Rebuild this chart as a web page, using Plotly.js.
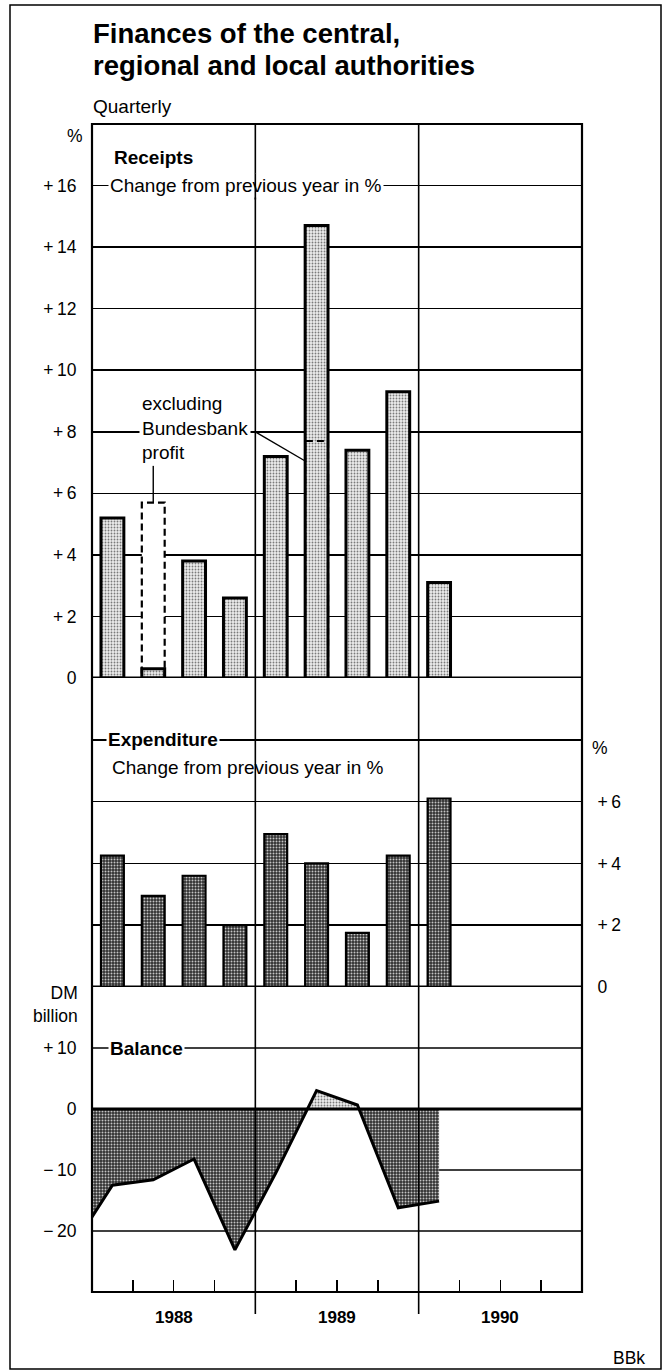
<!DOCTYPE html>
<html><head><meta charset="utf-8">
<script src="https://cdn.plot.ly/plotly-3.0.1.min.js"></script>
<style>html,body{margin:0;padding:0;background:#fff;}#chart{width:664px;height:1372px;}</style>
</head><body><div id="chart"></div>
<script>
// ---------------- data ----------------
const quarters = ['1988 Q1','1988 Q2','1988 Q3','1988 Q4','1989 Q1','1989 Q2','1989 Q3','1989 Q4','1990 Q1'];
const receipts = [5.2, 0.3, 3.8, 2.6, 7.2, 14.7, 7.4, 9.3, 3.1];
const receiptsExclBundesbankProfit = [null, 5.7, null, null, null, 7.7, null, null, null];
const expenditure = [4.25, 2.95, 3.6, 2.0, 4.95, 4.0, 1.75, 4.25, 6.1];
const balanceQuarters = ['1987 Q4','1988 Q1','1988 Q2','1988 Q3','1988 Q4','1989 Q1','1989 Q2','1989 Q3','1989 Q4','1990 Q1'];
const balance = [-22.9, -12.5, -11.6, -8.2, -23.1, -10.5, 3.0, 0.65, -16.2, -15.1];
const years = ['1988','1989','1990'];
const receiptTickVals = [0,2,4,6,8,10,12,14,16,18];
const receiptTickText = ['0','+\u20092','+\u20094','+\u20096','+\u20098','+\u200910','+\u200912','+\u200914','+\u200916',''];
const expTickVals = [0,2,4,6,8];
const expTickText = ['0','+\u20092','+\u20094','+\u20096',''];
const balTickVals = [-20,-10,0,10];
const balTickText = ['\u2212\u200920','\u2212\u200910','0','+\u200910'];

// ---------------- helpers ----------------
const FONT = 'Liberation Sans, Arial, Helvetica, sans-serif';
const firstYear = parseInt(years[0]);
function qpos(label){ const [y,q] = label.split(' '); return (parseInt(y)-firstYear)*4 + (parseInt(q.slice(1))-1) + 0.5; }
const qx = quarters.map(qpos);
const bx = balanceQuarters.map(qpos);
const nQ = years.length*4;
const BW = 0.56;
// plot geometry in px (for paper conversion)
const W=664, H=1372, L=92, R=582, T=124, B=1292;
const xp = px => (px-L)/(R-L);
const yp = py => (B-py)/(B-T);

// balance split into negative / positive parts with zero crossings
function splitSign(xs, ys){
  const X=[], Yn=[], Yp=[];
  for(let i=0;i<xs.length;i++){
    if(i>0){
      const y0=ys[i-1], y1=ys[i];
      if((y0<0 && y1>0)||(y0>0 && y1<0)){
        const xc = xs[i-1] + (xs[i]-xs[i-1])*(-y0)/(y1-y0);
        X.push(xc); Yn.push(0); Yp.push(0);
      }
    }
    X.push(xs[i]); Yn.push(Math.min(ys[i],0)); Yp.push(Math.max(ys[i],0));
  }
  return {X,Yn,Yp};
}
const bs = splitSign(bx, balance);

const lightPattern = {shape:'.', bgcolor:'#ececec', fgcolor:'#7a7a7a', size:3, solidity:0.3};
const darkPattern = {shape:'.', bgcolor:'#303030', fgcolor:'#c4c4c4', size:3, solidity:0.35};

const traces = [
  // white cover for "excluding Bundesbank profit" boxes
  {type:'bar', x:qx, y:receiptsExclBundesbankProfit, width:BW, xaxis:'x', yaxis:'y',
   marker:{color:'#ffffff', line:{width:0}}, hoverinfo:'skip', showlegend:false},
  {type:'bar', x:qx, y:receipts, width:BW, xaxis:'x', yaxis:'y', name:'Receipts',
   marker:{color:'#e0e0e0', line:{color:'#000', width:3}, pattern:lightPattern}, showlegend:false},
  {type:'bar', x:qx, y:expenditure, width:BW, xaxis:'x', yaxis:'y2', name:'Expenditure',
   marker:{color:'#555', line:{color:'#000', width:2.2}, pattern:darkPattern}, showlegend:false},
  {type:'scatter', mode:'lines', x:bs.X, y:bs.Yn, xaxis:'x', yaxis:'y3', fill:'tozeroy',
   fillcolor:'#454545', fillpattern:darkPattern, line:{width:0}, hoverinfo:'skip', showlegend:false},
  {type:'scatter', mode:'lines', x:bs.X, y:bs.Yp, xaxis:'x', yaxis:'y3', fill:'tozeroy',
   fillcolor:'#e0e0e0', fillpattern:lightPattern, line:{width:0}, hoverinfo:'skip', showlegend:false},
  {type:'scatter', mode:'lines', x:bx, y:balance, xaxis:'x', yaxis:'y3', name:'Balance',
   line:{color:'#000', width:3}, showlegend:false}
];

const shapes = [];
// dashed boxes for receipts excluding Bundesbank profit
receiptsExclBundesbankProfit.forEach((v,i)=>{
  if(v===null) return;
  shapes.push({type:'rect', xref:'x', yref:'y', x0:qx[i]-BW/2, x1:qx[i]+BW/2, y0:0, y1:v,
    line:{color:'#000', width:2.2, dash:'7px,4px'}, fillcolor:'rgba(0,0,0,0)', layer:'above'});
});
// leader lines for the note
const i1 = receiptsExclBundesbankProfit.findIndex(v=>v!==null);
const i2 = receiptsExclBundesbankProfit.findLastIndex(v=>v!==null);
shapes.push({type:'line', xref:'x', yref:'y', x0:qx[i1], x1:qx[i1], y0:receiptsExclBundesbankProfit[i1], y1:6.9, line:{color:'#000', width:1.4}});
shapes.push({type:'line', xref:'x', yref:'y', x0:4, x1:qx[i2]-BW/2, y0:8, y1:receiptsExclBundesbankProfit[i2]-0.65, line:{color:'#000', width:1.4}});
// baselines
shapes.push({type:'line', xref:'paper', yref:'y', x0:0, x1:1, y0:0, y1:0, line:{color:'#000', width:3}, layer:'above'});
shapes.push({type:'line', xref:'paper', yref:'y2', x0:0, x1:1, y0:0, y1:0, line:{color:'#000', width:3}, layer:'above'});
shapes.push({type:'line', xref:'paper', yref:'y3', x0:0, x1:1, y0:0, y1:0, line:{color:'#000', width:3}, layer:'above'});
// balance grid lines
shapes.push({type:'line', xref:'paper', yref:'y3', x0:0, x1:1, y0:10, y1:10, line:{color:'#000', width:1.6}, layer:'below'});
shapes.push({type:'line', xref:'paper', yref:'y3', x0:0, x1:1, y0:-20, y1:-20, line:{color:'#000', width:1.6}, layer:'below'});
shapes.push({type:'line', xref:'x', yref:'y3', x0:bx[bx.length-1], x1:nQ, y0:-10, y1:-10, line:{color:'#000', width:1.6}, layer:'below'});
// year boundary lines
for(let k=1;k<years.length;k++){
  shapes.push({type:'line', xref:'x', yref:'paper', x0:k*4, x1:k*4, y0:yp(1314), y1:1, line:{color:'#000', width:1.6}, layer:'above'});
}
// plot frame
shapes.push({type:'rect', xref:'paper', yref:'paper', x0:0, x1:1, y0:0, y1:1, line:{color:'#000', width:2.2}, layer:'above'});
// outer border
shapes.push({type:'rect', xref:'paper', yref:'paper', x0:xp(10), x1:xp(661), y0:yp(1369), y1:yp(5), line:{color:'#000', width:1.5}, layer:'above'});

const tf = {family:FONT, size:19, color:'#000'};
const sf = {family:FONT, size:17.5, color:'#000'};
const ann = (text, x, y, opts={}) => Object.assign({text, xref:'paper', yref:'paper', x:xp(x), y:yp(y), xanchor:'left', yanchor:'middle', showarrow:false, font:tf}, opts);
const annotations = [
  ann('<b>Finances of the central,</b>', 91, 34, {font:{family:FONT, size:27.5, color:'#000'}}),
  ann('<b>regional and local authorities</b>', 91, 65, {font:{family:FONT, size:27.5, color:'#000'}}),
  ann('Quarterly', 91, 106),
  ann('%', 75, 136, {xanchor:'center', font:sf}),
  ann('<b>Receipts</b>', 112, 158),
  {text:'Change from previous year in %', xref:'paper', yref:'y', x:xp(108), y:16, xanchor:'left', yanchor:'middle', showarrow:false, font:tf, bgcolor:'#fff', borderpad:1},
  // year-boundary line segment redrawn over the text background
  {text:'', xref:'x', yref:'y', x:4, y:15.55, axref:'x', ayref:'y', ax:4, ay:16.45, showarrow:true, arrowhead:0, arrowwidth:1.6, arrowcolor:'#000', standoff:0, startstandoff:0},
  ann('excluding<br>Bundesbank<br>profit', 139, 428, {align:'left', bgcolor:'#fff', borderpad:2}),
  {text:'<b>Expenditure</b>', xref:'paper', yref:'y2', x:xp(106), y:8, xanchor:'left', yanchor:'middle', showarrow:false, font:tf, bgcolor:'#fff', borderpad:1},
  ann('Change from previous year in %', 110, 767),
  ann('%', 600, 748, {xanchor:'center', font:sf}),
  ann('DM<br>billion', 80, 1004, {xanchor:'right', align:'right', font:sf}),
  {text:'<b>Balance</b>', xref:'paper', yref:'y3', x:xp(108), y:10, xanchor:'left', yanchor:'middle', showarrow:false, font:tf, bgcolor:'#fff', borderpad:1},
  ann('BBk', 647, 1358, {xanchor:'right', font:sf})
];
years.forEach((y,k)=>{
  annotations.push({text:'<b>'+y+'</b>', xref:'x', yref:'paper', x:k*4+2, y:yp(1317), xanchor:'center', yanchor:'middle', showarrow:false, font:{family:FONT, size:17, color:'#000'}});
});

const dom3 = yp(987), dom2 = yp(678);
const baseAxis = {showline:false, zeroline:false, gridcolor:'#000', gridwidth:1.6, ticks:'outside', ticklen:11, tickcolor:'rgba(0,0,0,0)',
  tickfont:sf, tickmode:'array', fixedrange:true};
const layout = {
  width:W, height:H,
  margin:{l:L, r:W-R, t:T, b:H-B},
  paper_bgcolor:'#fff', plot_bgcolor:'#fff',
  barmode:'overlay',
  showlegend:false,
  xaxis:{anchor:'y3', range:[0,nQ], showgrid:false, zeroline:false, showline:false, showticklabels:false,
    ticks:'inside', tickmode:'array', tickvals:Array.from({length:nQ-1},(_,i)=>i+1), ticklen:12, tickwidth:1.6, tickcolor:'#000', fixedrange:true},
  yaxis:{...baseAxis, domain:[dom2,1], range:[0,18], tickvals:receiptTickVals, ticktext:receiptTickText, showgrid:true},
  yaxis2:{...baseAxis, domain:[dom3,dom2], range:[0,10], side:'right', anchor:'x', tickvals:expTickVals, ticktext:expTickText, showgrid:true},
  yaxis3:{...baseAxis, domain:[0,dom3], range:[-30,20], tickvals:balTickVals, ticktext:balTickText, showgrid:false},
  shapes, annotations
};
Plotly.newPlot('chart', traces, layout, {staticPlot:true, displayModeBar:false});
</script>
</body></html>
